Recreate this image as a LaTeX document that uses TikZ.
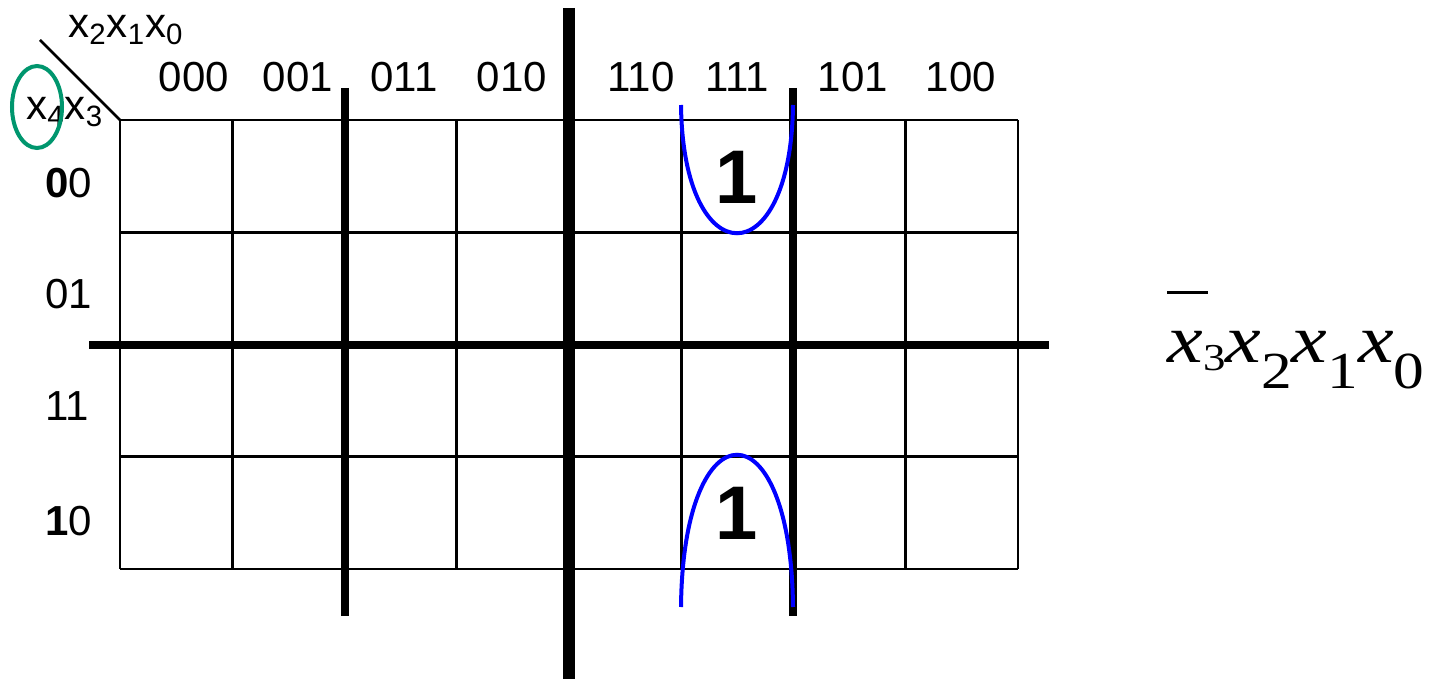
\documentclass[tikz,border=0pt]{standalone}
\usepackage{fontspec}
\usepackage{graphicx}
\setmainfont{Liberation Sans}
\newfontfamily\tnr{Liberation Serif}
\usetikzlibrary{positioning, calc}
\definecolor{kmapgreen}{RGB}{0, 150, 110}
\definecolor{kmapblue}{RGB}{0, 0, 255}

\begin{document}
\begin{tikzpicture}[x=0.5pt, y=-0.5pt,
        gridl/.style={line width=1.4pt},
        bar/.style={line width=4pt},
        midbar/.style={line width=6pt},
        loopl/.style={draw=kmapblue, line width=2pt},
        lbl/.style={font=\fontsize{21}{25}\selectfont, inner sep=0pt},
        onel/.style={font=\fontsize{38}{40}\selectfont\bfseries, inner sep=0pt}
      ]
        \useasboundingbox (0,0) rectangle (1434,679);
        % grid
        \foreach \i in {0,...,8} { \draw[gridl] (120+\i*112.25,120) -- (120+\i*112.25,569); }
        \foreach \j in {0,...,4} { \draw[gridl] (120,120+\j*112.25) -- (1018,120+\j*112.25); }
        \draw[gridl] (40,40) -- (120,120);
        % symmetry axes
        \draw[bar] (345,88) -- (345,616);
        \draw[bar] (793,88) -- (793,616);
        \draw[midbar] (569,8) -- (569,679);
        \draw[bar] (89,345) -- (1049,345);
        % labels
        \node[lbl, anchor=base west] (top) at (68,38) {x\textsubscript{2}x\textsubscript{1}x\textsubscript{0}};
        \node[lbl, anchor=base west] (side) at (26,120) {x\textsubscript{4}x\textsubscript{3}};
        \foreach \c/\x in {000/194, 001/298, 011/404, 010/512, 110/641, 111/737, 101/853, 100/961}
          { \node[lbl, anchor=base] (c\c) at (\x,92) {\c}; }
        \foreach \r/\y/\t in {00/198/{\textbf{0}0}, 01/308/01, 11/420/11, 10/535/{\textbf{1}0}}
          { \node[lbl, anchor=base west] (r\r) at (45,\y) {\t}; }
        \draw[kmapgreen, line width=2pt] (37,107) ellipse [x radius=12.5pt, y radius=20.5pt];
        % minterms
        \node[onel] (m1) at (737,177) {1};
        \node[onel] (m2) at (737,513) {1};
        \draw[loopl] (681,105) .. controls (683,276) and (791,276) .. (793,105);
        \draw[loopl] (681,607) .. controls (683,404) and (791,404) .. (793,607);
        % result
        \node[anchor=base west, inner sep=0pt, font=\tnr\fontsize{34}{36}\selectfont] (res) at (1167,362)
          {\scalebox{1.18}[1]{\rlap{\rule[34pt]{17pt}{1.3pt}}\textit{x}\raisebox{-4pt}{\fontsize{19}{20}\selectfont 3}\textit{x}\raisebox{-13pt}{\fontsize{26}{28}\selectfont 2}\textit{x}\raisebox{-13pt}{\fontsize{26}{28}\selectfont 1}\textit{x}\raisebox{-13pt}{\fontsize{26}{28}\selectfont 0}}};
      \end{tikzpicture}
\end{document}
